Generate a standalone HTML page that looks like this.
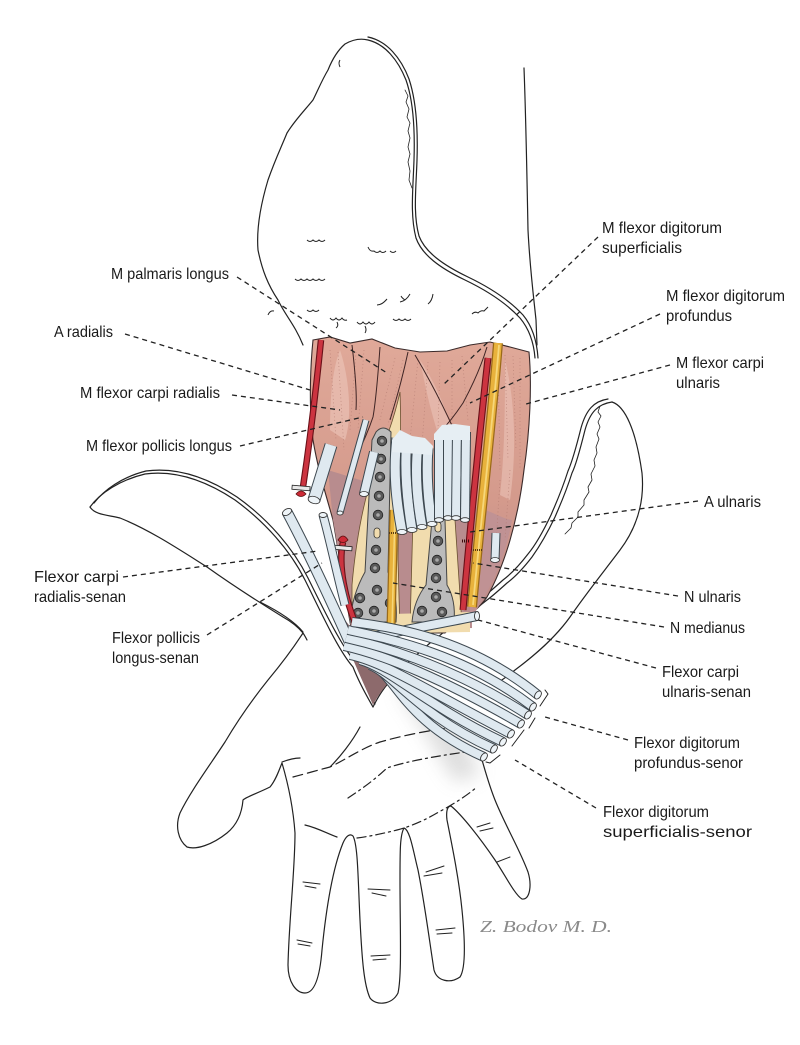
<!DOCTYPE html>
<html><head><meta charset="utf-8">
<style>
html,body{margin:0;padding:0;background:#fff;}
svg{display:block;}
.lb{font-family:"Liberation Sans",sans-serif;font-size:16px;fill:#1a1a1a;}
.ln{fill:none;stroke:#222;stroke-width:1.2;stroke-linejoin:round;stroke-linecap:round;}
.ld{fill:none;stroke:#222;stroke-width:1.3;stroke-dasharray:5 4;}
.tx{fill:none;stroke:#b27a70;stroke-width:0.8;stroke-dasharray:1 2.5;opacity:0.7;}
.sc{fill:none;stroke:#222;stroke-width:1;}
</style></head><body>
<svg width="800" height="1045" viewBox="0 0 800 1045" xmlns="http://www.w3.org/2000/svg">
<defs>
<linearGradient id="mg" x1="0" y1="0" x2="0" y2="1">
<stop offset="0" stop-color="#e0a999"/>
<stop offset="0.55" stop-color="#d49a8c"/>
<stop offset="1" stop-color="#b98a8a"/>
</linearGradient>
<filter id="blur" x="-50%" y="-50%" width="200%" height="200%"><feGaussianBlur stdDeviation="9"/></filter>
<path id="t1" d="M 352,622 C 400,628 470,640 538,695"/>
<path id="t2" d="M 348,630 C 395,640 465,655 533,707"/>
<path id="t3" d="M 346,638 C 390,648 455,668 528,715"/>
<path id="t4" d="M 344,646 C 385,655 445,680 521,724"/>
<path id="t5" d="M 350,655 C 385,662 435,695 511,734"/>
<path id="t6" d="M 360,660 C 390,668 425,705 503,742"/>
<path id="t7" d="M 370,665 C 395,675 418,715 494,749"/>
<path id="t8" d="M 380,670 C 398,685 412,725 484,757"/>
<path id="tc" d="M 477,616 C 450,622 410,628 360,640"/>
<path id="tf" d="M 287,512 C 310,555 335,610 352,648"/>
<path id="tp" d="M 323,515 C 330,540 336,570 345,605"/>
</defs>
<rect width="800" height="1045" fill="#fff"/>

<!-- shadow under tendon bundle -->
<path d="M 405,675 C 440,700 465,735 480,775 L 455,782 C 435,750 415,715 400,695 Z" fill="#a0a0a0" opacity="0.35" filter="url(#blur)"/>

<!-- hand outline -->
<path class="ln" d="M 303,633 C 292,650 278,668 268,680 C 252,700 238,720 225,742 C 210,765 190,792 180,813 C 175,826 178,840 187,847 C 196,850 212,845 227,833 C 238,824 242,812 243,800 C 246,797 258,793 270,787 C 276,780 279,770 282,763 C 287,780 293,805 295,833 C 295,870 289,920 288,965 C 288,982 296,993 305,993 C 315,993 320,975 322,950 C 326,910 332,870 343,843 C 346,836 350,833 353,836 C 358,845 358,880 360,920 C 362,960 364,985 370,998 C 376,1006 392,1005 398,993 C 402,975 400,930 400,880 C 400,850 400,835 404,828 C 410,830 413,850 418,870 C 425,905 430,945 434,970 C 437,981 450,984 460,977 C 466,968 465,940 462,910 C 459,880 453,850 447,820 C 446,812 447,806 451,806 C 462,815 480,838 495,860 C 505,875 515,895 522,899 C 530,900 532,885 528,872 C 520,850 505,825 495,800 C 489,785 485,770 482,760"/>
<path class="ln" d="M 360,727 C 352,742 340,757 330,767"/>
<path class="ln" d="M 282,762 C 290,759 296,758 300,758"/>
<path class="ln" d="M 305,825 C 318,828 328,834 337,837"/>
<path class="ln" style="stroke-dasharray:10 5" d="M 293,777 C 305,774 318,770 330,767 C 345,760 362,748 380,742 C 405,735 430,730 457,727"/>
<path class="ln" style="stroke-dasharray:9 4 2 4" d="M 348,798 C 360,790 372,782 387,768 C 410,760 450,754 480,750"/>
<path class="ln" style="stroke-dasharray:9 4 2 4" d="M 357,838 C 372,836 385,833 397,830 C 412,826 425,820 437,813 C 452,805 465,797 477,787"/>
<!-- finger creases -->
<g class="ln" style="stroke-width:1">
<path d="M 303,882 L 320,884"/><path d="M 305,886 L 316,888"/>
<path d="M 297,940 L 312,943"/><path d="M 298,944 L 310,946"/>
<path d="M 368,889 L 390,890"/><path d="M 372,893 L 386,896"/>
<path d="M 371,956 L 390,955"/><path d="M 373,960 L 386,959"/>
<path d="M 426,872 L 444,866"/><path d="M 424,876 L 442,873"/>
<path d="M 436,930 L 455,928"/><path d="M 437,934 L 452,933"/>
<path d="M 477,827 L 490,823"/><path d="M 480,831 L 493,828"/>
<path d="M 497,862 L 510,857"/>
</g>

<!-- left flap -->
<path d="M 90,507 C 100,493 120,480 145,474 C 175,470 205,480 235,500 C 265,522 290,550 305,580 C 320,610 340,650 353,667 C 360,685 368,698 373,707 L 360,680 C 340,660 325,645 303,633 C 290,625 270,610 240,592 C 210,572 180,550 150,532 C 125,520 105,513 90,507 Z" fill="#fff"/>
<path class="ln" d="M 90,507 C 100,493 120,480 145,474 C 175,470 205,480 235,500 C 265,522 290,550 305,580 C 320,610 338,650 353,667 C 360,685 368,698 373,707"/>
<path class="ln" d="M 94,503 C 104,490 122,477 146,471 C 176,467 207,477 237,497 C 268,519 293,548 308,578 C 323,608 342,648 357,664 C 364,682 371,696 375,704"/>
<path class="ln" d="M 90,507 C 95,515 108,515 120,518 C 150,530 180,550 207,567 C 235,587 262,604 283,617 C 292,622 298,627 303,633 C 305,636 306,638 307,640"/>
<path class="ln" d="M 260,602 C 280,612 295,622 303,632"/>

<!-- lower right flap -->
<path d="M 612,402 C 625,406 636,430 642,473 C 645,505 635,530 620,550 C 605,570 585,595 570,617 C 555,638 535,655 515,670 L 497,683 L 470,614 C 490,598 505,585 520,570 C 540,545 560,515 572,473 C 580,445 588,415 612,402 Z" fill="#fff"/>
<path class="ln" d="M 612,402 C 625,406 636,430 642,473 C 645,505 635,530 620,550 C 605,570 585,595 570,617 C 555,638 535,655 515,670 C 508,676 502,680 497,683"/>
<path class="ln" d="M 612,402 C 598,404 590,412 585,430 C 580,450 576,465 572,473 C 565,495 560,505 555,517 C 545,538 537,550 532,557 C 522,570 515,577 507,583 C 497,592 490,598 487,600 C 478,607 473,611 470,614 C 458,622 452,626 450,627 C 440,635 435,640 430,643 C 420,652 413,658 407,663 C 395,675 388,683 383,690 C 378,697 375,703 373,707"/>
<path class="ln" d="M 608,399 C 594,401 586,410 581,428 C 576,448 572,462 568,471 C 561,493 556,503 551,515 C 541,536 533,548 528,554 C 518,567 511,574 503,580 C 493,589 486,595 483,597"/>
<path class="ln" style="stroke-width:0.8" d="M 600,406 l -2,6 l 3,4 l -3,6 l 2,5 l -3,7 l 2,5 l -3,8 l 1,6 l -3,7 l 1,6 l -4,8 l 1,6 l -4,7 l 1,5 l -5,8 l 0,5 l -6,7 l 0,5 l -6,6 l -1,5 l -6,6"/>

<!-- upper flap -->
<path d="M 320,342 L 305,335 C 295,325 285,315 278,300 C 268,285 262,270 258,250 C 256,225 262,200 268,180 C 275,160 280,150 287,133 C 295,120 305,110 313,100 C 318,90 322,80 328,70 C 332,60 338,50 345,44 C 352,40 360,38 368,40 C 385,44 398,60 406,80 C 413,100 415,130 414,160 C 413,190 410,215 416,238 C 422,255 440,268 465,280 C 490,292 508,305 520,318 C 530,330 534,345 535,358 L 520,356 L 300,350 Z" fill="#fff"/>
<path class="ln" d="M 303,345 C 295,325 285,315 278,300 C 268,285 262,270 258,250 C 256,225 262,200 268,180 C 275,160 280,150 287,133 C 295,120 305,110 313,100 C 318,90 322,80 328,70 C 332,60 338,50 345,44 C 352,40 360,38 368,40 C 385,44 398,60 406,80 C 413,100 415,130 414,160 C 413,190 410,215 416,238 C 422,255 440,268 465,280 C 490,292 508,305 520,318 C 530,330 534,345 535,358"/>
<path class="ln" d="M 368,37 C 387,41 401,58 409,79 C 416,100 418,130 417,160 C 416,190 413,214 419,236 C 425,252 443,265 468,277 C 493,289 511,302 523,315 C 533,327 537,343 538,358"/>
<path class="ln" style="stroke-width:0.8" d="M 405,90 l 3,6 l -2,6 l 3,7 l -2,8 l 3,6 l -2,8 l 2,7 l -2,9 l 2,7 l -2,8 l 2,9 l -1,9 l 3,8"/>
<path class="ln" d="M 524,68 C 526,120 527,180 528,230 C 530,270 534,300 536,320 L 537,345"/>

<!-- scallop marks in flap -->
<g class="sc">
<path d="M 340,60 q -2,3 0,7"/>
<path d="M 307,240 q 3,3 6,0 q 3,3 6,0 q 3,3 6,0"/>
<path d="M 368,247 q 2,5 6,4 q 3,3 6,0 q 3,3 6,0 M 390,251 q 3,3 6,0"/>
<path d="M 295,279 q 3,3 6,0 q 3,3 6,0 q 3,3 6,0 q 3,3 6,0 q 3,3 6,0"/>
<path d="M 377,305 q 5,0 10,-6"/>
<path d="M 400,302 q 6,-1 10,-8 M 405,300 q -3,-2 -4,-4"/>
<path d="M 428,304 q 4,-3 5,-10"/>
<path d="M 307,310 q 3,3 6,0 q 3,3 6,0"/>
<path d="M 330,318 q 3,4 6,0 q 3,4 6,0 q 2,3 5,2 M 337,322 q 2,4 -1,6"/>
<path d="M 357,322 q 3,4 6,0 q 3,4 6,0 q 3,4 6,0 M 365,326 q 2,4 0,7"/>
<path d="M 393,319 q 3,3 6,0 q 3,3 6,0 q 3,3 6,0"/>
<path d="M 472,314 q 3,-3 6,-1 q 3,-3 6,-2 q 2,-2 4,-4"/>
<path d="M 268,315 q 2,-5 6,-4"/>
</g>

<!-- muscle base -->
<path d="M 313,340 L 330,337 L 350,343 L 372,339 L 395,348 L 420,352 L 447,351 L 470,345 L 490,342 L 510,347 L 529,352 C 532,385 530,430 524,470 C 518,520 505,565 487,597 C 478,610 468,616 460,620 L 445,633 L 352,633 C 346,600 340,560 333,520 C 326,495 318,470 313,440 C 309,410 310,370 313,340 Z" fill="url(#mg)" stroke="#3a2a2a" stroke-width="1.1"/>
<!-- muscle highlights -->
<path d="M 340,350 C 350,380 352,420 345,440 L 330,430 C 330,400 332,370 340,350 Z" fill="#ecc6bb" opacity="0.6"/>
<path d="M 420,360 C 440,390 450,420 455,445 L 440,440 C 430,410 425,385 420,360 Z" fill="#ecc6bb" opacity="0.55"/>
<path d="M 505,360 C 515,400 517,450 510,500 L 500,495 C 505,450 505,400 505,360 Z" fill="#ecc6bb" opacity="0.55"/>
<!-- mauve lower -->
<path d="M 328,470 C 360,480 420,500 470,505 L 472,628 L 352,632 C 346,600 340,560 333,520 Z" fill="#b88c8e"/>
<path d="M 470,505 C 490,510 505,520 512,520 C 505,560 490,590 470,620 Z" fill="#c09294"/>
<!-- texture -->
<g class="tx">
<path d="M 330,350 L 336,440"/><path d="M 338,352 L 344,450"/><path d="M 356,352 L 350,430"/><path d="M 364,350 L 358,430"/>
<path d="M 395,358 L 380,420"/><path d="M 403,360 L 388,425"/><path d="M 418,360 L 410,440"/><path d="M 428,362 L 422,445"/>
<path d="M 440,362 L 438,430"/><path d="M 452,360 L 452,428"/><path d="M 462,356 L 468,420"/>
<path d="M 505,355 L 508,460"/><path d="M 513,356 L 516,450"/><path d="M 520,358 L 520,470"/><path d="M 498,360 L 500,470"/>
<path d="M 500,480 L 495,560"/><path d="M 510,470 L 505,540"/>
</g>
<!-- muscle boundaries -->
<g fill="none" stroke="#3e2424" stroke-width="1">
<path d="M 380,347 C 378,375 376,400 373,417 C 368,432 362,445 356,457"/>
<path d="M 408,352 C 402,380 396,400 390,420"/>
<path d="M 487,347 C 480,370 470,390 463,403 C 455,415 447,425 440,432"/>
<path d="M 352,345 C 355,370 357,395 356,410"/>
<path d="M 415,355 C 430,380 445,410 455,432"/>
</g>

<!-- cream areas -->
<path d="M 400,392 C 394,420 384,445 374,470 C 364,500 356,540 352,585 L 352,632 L 400,632 L 398,560 C 398,510 402,450 400,392 Z" fill="#f1dcae" stroke="#6a5030" stroke-width="0.8"/>
<path d="M 413,518 C 425,515 445,515 455,520 L 462,625 L 410,628 Z" fill="#f1dcae" stroke="#6a5030" stroke-width="0.8"/>
<path d="M 352,615 L 470,612 L 470,632 L 352,634 Z" fill="#f1dcae"/>

<!-- left plate -->
<path d="M 376,432 Q 383,424 391,432 L 388,572 Q 398,595 396,622 L 350,622 Q 352,595 365,572 L 372,440 Z" fill="#bbbbbb" stroke="#444" stroke-width="1"/>
<!-- right plate -->
<path d="M 432,520 Q 438,512 445,520 L 447,585 Q 456,600 454,622 L 412,622 Q 414,600 426,585 Z" fill="#bbbbbb" stroke="#444" stroke-width="1"/>
<g fill="#5a5a5a" stroke="#222" stroke-width="0.8">
<circle cx="382" cy="441" r="4.8"/><circle cx="381" cy="459" r="4.8"/><circle cx="380" cy="477" r="4.8"/><circle cx="379" cy="496" r="4.8"/><circle cx="378" cy="515" r="4.8"/><circle cx="376" cy="550" r="4.8"/><circle cx="375" cy="568" r="4.8"/>
<circle cx="360" cy="598" r="4.8"/><circle cx="377" cy="590" r="4.8"/><circle cx="390" cy="603" r="4.8"/><circle cx="358" cy="613" r="4.8"/><circle cx="374" cy="611" r="4.8"/>
<circle cx="438" cy="541" r="4.8"/><circle cx="437" cy="560" r="4.8"/><circle cx="436" cy="578" r="4.8"/><circle cx="436" cy="597" r="4.8"/><circle cx="422" cy="611" r="4.8"/><circle cx="442" cy="612" r="4.8"/>
</g>
<g fill="#a8a8a8">
<circle cx="382" cy="441" r="1.8"/><circle cx="381" cy="459" r="1.8"/><circle cx="380" cy="477" r="1.8"/><circle cx="379" cy="496" r="1.8"/><circle cx="378" cy="515" r="1.8"/><circle cx="376" cy="550" r="1.8"/><circle cx="375" cy="568" r="1.8"/>
<circle cx="360" cy="598" r="1.8"/><circle cx="377" cy="590" r="1.8"/><circle cx="390" cy="603" r="1.8"/><circle cx="358" cy="613" r="1.8"/><circle cx="374" cy="611" r="1.8"/>
<circle cx="438" cy="541" r="1.8"/><circle cx="437" cy="560" r="1.8"/><circle cx="436" cy="578" r="1.8"/><circle cx="436" cy="597" r="1.8"/><circle cx="422" cy="611" r="1.8"/><circle cx="442" cy="612" r="1.8"/>
</g>
<rect x="374" y="528" width="6" height="10" rx="3" fill="#f1dcae" stroke="#333" stroke-width="0.8"/>
<rect x="435" y="522" width="6" height="10" rx="3" fill="#f1dcae" stroke="#333" stroke-width="0.8"/>

<!-- nerves and arteries -->
<path d="M 394,510 L 391,626" stroke="#9a6a18" stroke-width="9" fill="none"/>
<path d="M 394,510 L 391,626" stroke="#e8b23c" stroke-width="6.5" fill="none"/>
<path d="M 395,512 L 392,626" stroke="#f6d77a" stroke-width="1.5" fill="none"/>
<path d="M 389,533 l 10,0" stroke="#5a3a10" stroke-width="2" stroke-dasharray="1 1"/>
<path d="M 498,343 C 492,420 480,520 472,607" stroke="#9a6a18" stroke-width="10" fill="none"/>
<path d="M 498,343 C 492,420 480,520 472,607" stroke="#e8b23c" stroke-width="7.5" fill="none"/>
<path d="M 499,345 C 493,420 481,520 473,605" stroke="#f6d77a" stroke-width="1.8" fill="none"/>
<path d="M 473,550 l 10,0" stroke="#5a3a10" stroke-width="2" stroke-dasharray="1 1"/>
<path d="M 488,358 C 480,430 470,530 463,610" stroke="#6a1018" stroke-width="7" fill="none"/>
<path d="M 488,358 C 480,430 470,530 463,610" stroke="#cc3440" stroke-width="4.8" fill="none"/>
<path d="M 462,541 l 7,0" stroke="#3a0a0a" stroke-width="3" stroke-dasharray="1 1"/>
<path d="M 321,340 C 316,390 310,440 303,487" stroke="#6a1018" stroke-width="6.5" fill="none"/>
<path d="M 321,340 C 316,390 310,440 303,487" stroke="#cc3440" stroke-width="4.3" fill="none"/>
<path d="M 296,494 q 5,-6 10,0 q -5,5 -10,0 Z" fill="#cc2a36" stroke="#5a1010" stroke-width="0.8"/>
<rect x="292" y="486" width="18" height="4" fill="#e8e8e8" stroke="#222" stroke-width="0.8" transform="rotate(5 301 488)"/>
<path d="M 343,542 C 338,565 345,600 357,627" stroke="#6a1018" stroke-width="6.5" fill="none"/>
<path d="M 343,542 C 338,565 345,600 357,627" stroke="#cc3440" stroke-width="4.3" fill="none"/>
<path d="M 338,540 q 5,-8 10,0 q -5,5 -10,0 Z" fill="#cc2a36" stroke="#5a1010" stroke-width="0.8"/>
<rect x="334" y="546" width="18" height="4" fill="#e8e8e8" stroke="#222" stroke-width="0.8" transform="rotate(5 343 548)"/>

<!-- cut tendons in forearm -->
<g fill="none" stroke-linecap="butt">
<path d="M 331,445 L 314,500" stroke="#3d4850" stroke-width="13"/>
<path d="M 331,445 L 314,500" stroke="#dfe9f0" stroke-width="11"/>
<path d="M 366,420 L 340,513" stroke="#3d4850" stroke-width="7"/>
<path d="M 366,420 L 340,513" stroke="#dfe9f0" stroke-width="5"/>
<path d="M 374,452 L 364,494" stroke="#3d4850" stroke-width="10"/>
<path d="M 374,452 L 364,494" stroke="#dfe9f0" stroke-width="8"/>
<path d="M 496,533 L 495,560" stroke="#3d4850" stroke-width="9"/>
<path d="M 496,533 L 495,560" stroke="#dfe9f0" stroke-width="7"/>
</g>
<ellipse cx="314" cy="500" rx="6" ry="3.5" fill="#eef4f8" stroke="#333" stroke-width="0.8" transform="rotate(15 314 500)"/>
<ellipse cx="340" cy="513" rx="3" ry="2" fill="#eef4f8" stroke="#333" stroke-width="0.8"/>
<ellipse cx="364" cy="494" rx="4.5" ry="2.5" fill="#eef4f8" stroke="#333" stroke-width="0.8"/>
<ellipse cx="495" cy="560" rx="4.5" ry="2.5" fill="#eef4f8" stroke="#333" stroke-width="0.8"/>
<!-- FDS groups -->
<g fill="none">
<path d="M 397,438 C 393,470 396,500 402,532" stroke="#3d4850" stroke-width="11"/>
<path d="M 397,438 C 393,470 396,500 402,532" stroke="#dfe9f0" stroke-width="9"/>
<path d="M 407,440 C 404,470 407,500 412,530" stroke="#3d4850" stroke-width="11"/>
<path d="M 407,440 C 404,470 407,500 412,530" stroke="#dfe9f0" stroke-width="9"/>
<path d="M 418,444 C 415,470 417,500 422,527" stroke="#3d4850" stroke-width="11"/>
<path d="M 418,444 C 415,470 417,500 422,527" stroke="#dfe9f0" stroke-width="9"/>
<path d="M 428,448 C 426,475 428,500 432,524" stroke="#3d4850" stroke-width="11"/>
<path d="M 428,448 C 426,475 428,500 432,524" stroke="#dfe9f0" stroke-width="9"/>
<path d="M 439,434 L 439,520" stroke="#3d4850" stroke-width="10"/>
<path d="M 439,434 L 439,520" stroke="#dfe9f0" stroke-width="8"/>
<path d="M 448,432 L 448,518" stroke="#3d4850" stroke-width="10"/>
<path d="M 448,432 L 448,518" stroke="#dfe9f0" stroke-width="8"/>
<path d="M 457,431 L 456,518" stroke="#3d4850" stroke-width="10"/>
<path d="M 457,431 L 456,518" stroke="#dfe9f0" stroke-width="8"/>
<path d="M 466,432 L 465,520" stroke="#3d4850" stroke-width="10"/>
<path d="M 466,432 L 465,520" stroke="#dfe9f0" stroke-width="8"/>
</g>
<path d="M 392,440 L 400,430 L 412,436 L 425,438 L 433,446 L 432,455 L 392,452 Z" fill="#e6eef3"/>
<path d="M 434,434 L 442,425 L 455,424 L 470,426 L 470,440 L 434,440 Z" fill="#e6eef3"/>
<g fill="#eef4f8" stroke="#333" stroke-width="0.8">
<ellipse cx="402" cy="532" rx="5" ry="2.5"/><ellipse cx="412" cy="530" rx="5" ry="2.5"/><ellipse cx="422" cy="527" rx="5" ry="2.5"/><ellipse cx="432" cy="524" rx="5" ry="2.5"/>
<ellipse cx="439" cy="520" rx="4.5" ry="2.3"/><ellipse cx="448" cy="518" rx="4.5" ry="2.3"/><ellipse cx="456" cy="518" rx="4.5" ry="2.3"/><ellipse cx="465" cy="520" rx="4.5" ry="2.3"/>
</g>

<!-- dark strip in V -->
<path d="M 340,625 C 348,650 360,675 373,705 C 378,695 388,682 398,672 C 380,660 360,640 345,620 Z" fill="#8d6a6c"/>

<!-- lower tendons -->
<g fill="none" stroke-linecap="butt">
<use href="#tc" stroke="#3d4850" stroke-width="10"/><use href="#tc" stroke="#dfe9f0" stroke-width="8"/>
<use href="#tf" stroke="#3d4850" stroke-width="11"/><use href="#tf" stroke="#dfe9f0" stroke-width="9"/>
<use href="#tp" stroke="#3d4850" stroke-width="9"/><use href="#tp" stroke="#dfe9f0" stroke-width="7"/>
<use href="#t8" stroke="#3d4850" stroke-width="10"/><use href="#t8" stroke="#dfe9f0" stroke-width="8"/>
<use href="#t7" stroke="#3d4850" stroke-width="10"/><use href="#t7" stroke="#dfe9f0" stroke-width="8"/>
<use href="#t6" stroke="#3d4850" stroke-width="10"/><use href="#t6" stroke="#dfe9f0" stroke-width="8"/>
<use href="#t5" stroke="#3d4850" stroke-width="10"/><use href="#t5" stroke="#dfe9f0" stroke-width="8"/>
<use href="#t4" stroke="#3d4850" stroke-width="10"/><use href="#t4" stroke="#dfe9f0" stroke-width="8"/>
<use href="#t3" stroke="#3d4850" stroke-width="10"/><use href="#t3" stroke="#dfe9f0" stroke-width="8"/>
<use href="#t2" stroke="#3d4850" stroke-width="10"/><use href="#t2" stroke="#dfe9f0" stroke-width="8"/>
<use href="#t1" stroke="#3d4850" stroke-width="10"/><use href="#t1" stroke="#dfe9f0" stroke-width="8"/>
</g>
<g fill="#eef4f8" stroke="#333" stroke-width="0.9">
<ellipse cx="477" cy="616" rx="2.5" ry="4.5"/>
<ellipse cx="287" cy="512" rx="5" ry="3" transform="rotate(-30 287 512)"/>
<ellipse cx="323" cy="515" rx="4" ry="2.5"/>
<ellipse cx="538" cy="695" rx="2.8" ry="4.5" transform="rotate(35 538 695)"/>
<ellipse cx="533" cy="707" rx="2.8" ry="4.5" transform="rotate(35 533 707)"/>
<ellipse cx="528" cy="715" rx="2.8" ry="4.5" transform="rotate(35 528 715)"/>
<ellipse cx="521" cy="724" rx="2.8" ry="4.5" transform="rotate(35 521 724)"/>
<ellipse cx="511" cy="734" rx="2.8" ry="4.5" transform="rotate(35 511 734)"/>
<ellipse cx="503" cy="742" rx="2.8" ry="4.5" transform="rotate(35 503 742)"/>
<ellipse cx="494" cy="749" rx="2.8" ry="4.5" transform="rotate(35 494 749)"/>
<ellipse cx="484" cy="757" rx="2.8" ry="4.5" transform="rotate(35 484 757)"/>
</g>
<path class="ln" style="stroke-width:1" d="M 545,690 l 3,4 l -8,12 M 535,718 l -6,10 M 524,730 l -12,16 M 500,755 l -10,8 l -4,-1"/>

<!-- leader lines -->
<g class="ld">
<path d="M 237,277 L 387,373"/>
<path d="M 125,334 L 310,390"/>
<path d="M 232,395 L 340,410"/>
<path d="M 240,446 L 363,417"/>
<path d="M 598,237 L 443,385"/>
<path d="M 660,314 L 470,403"/>
<path d="M 670,365 L 526,404"/>
<path d="M 698,501 L 470,532"/>
<path d="M 678,596 L 473,563"/>
<path d="M 664,627 L 393,583"/>
<path d="M 656,668 L 478,620"/>
<path d="M 628,740 L 545,717"/>
<path d="M 596,808 L 515,760"/>
<path d="M 123,577 L 318,551"/>
<path d="M 207,635 L 322,563"/>
</g>

<!-- labels -->
<g class="lb">
<text x="111" y="279" textLength="118" lengthAdjust="spacingAndGlyphs">M palmaris longus</text>
<text x="54" y="337" textLength="59" lengthAdjust="spacingAndGlyphs">A radialis</text>
<text x="80" y="398" textLength="140" lengthAdjust="spacingAndGlyphs">M flexor carpi radialis</text>
<text x="86" y="451" textLength="146" lengthAdjust="spacingAndGlyphs">M flexor pollicis longus</text>
<text x="602" y="233" textLength="120" lengthAdjust="spacingAndGlyphs">M flexor digitorum</text>
<text x="602" y="253" textLength="80" lengthAdjust="spacingAndGlyphs">superficialis</text>
<text x="666" y="301" textLength="119" lengthAdjust="spacingAndGlyphs">M flexor digitorum</text>
<text x="666" y="321" textLength="66" lengthAdjust="spacingAndGlyphs">profundus</text>
<text x="676" y="368" textLength="88" lengthAdjust="spacingAndGlyphs">M flexor carpi</text>
<text x="676" y="388" textLength="44" lengthAdjust="spacingAndGlyphs">ulnaris</text>
<text x="704" y="507" textLength="57" lengthAdjust="spacingAndGlyphs">A ulnaris</text>
<text x="684" y="602" textLength="57" lengthAdjust="spacingAndGlyphs">N ulnaris</text>
<text x="670" y="633" textLength="75" lengthAdjust="spacingAndGlyphs">N medianus</text>
<text x="662" y="677" textLength="77" lengthAdjust="spacingAndGlyphs">Flexor carpi</text>
<text x="662" y="697" textLength="89" lengthAdjust="spacingAndGlyphs">ulnaris-senan</text>
<text x="634" y="748" textLength="106" lengthAdjust="spacingAndGlyphs">Flexor digitorum</text>
<text x="634" y="768" textLength="109" lengthAdjust="spacingAndGlyphs">profundus-senor</text>
<text x="603" y="817" textLength="106" lengthAdjust="spacingAndGlyphs">Flexor digitorum</text>
<text x="603" y="837" textLength="149" lengthAdjust="spacingAndGlyphs">superficialis-senor</text>
<text x="34" y="582" textLength="85" lengthAdjust="spacingAndGlyphs">Flexor carpi</text>
<text x="34" y="602" textLength="92" lengthAdjust="spacingAndGlyphs">radialis-senan</text>
<text x="112" y="643" textLength="88" lengthAdjust="spacingAndGlyphs">Flexor pollicis</text>
<text x="112" y="663" textLength="87" lengthAdjust="spacingAndGlyphs">longus-senan</text>
</g>
<text x="480" y="932" textLength="132" lengthAdjust="spacingAndGlyphs" style="font-family:'Liberation Serif',serif;font-style:italic;font-size:17px;fill:#8a8a8a;">Z. Bodov M. D.</text>
</svg>
</body></html>
